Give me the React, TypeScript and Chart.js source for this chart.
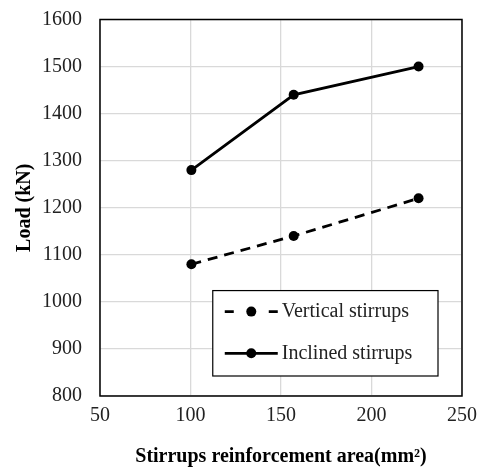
import React, { useEffect, useRef } from "react";
import { Chart, registerables } from "chart.js";

Chart.register(...registerables);

// Stirrup area (mm²) for each specimen
const stirrupArea = [100.5, 157, 226];
// Ultimate load (kN)
const verticalLoad = [1080, 1140, 1220];
const inclinedLoad = [1280, 1440, 1500];

const seriesNames = ["Vertical stirrups", "Inclined stirrups"];
const xTitle = "Stirrups reinforcement area(mm²)";
const yTitle = "Load (kN)";

const FONT = "'Liberation Serif', 'Times New Roman', serif";

// Boxed legend drawn inside the plot area, bottom-right
const innerLegend = {
  id: "innerLegend",
  afterDraw(chart: any) {
    const { ctx, chartArea, scales } = chart;
    const x0 = scales.x.getPixelForValue(112.3);
    const x1 = chartArea.right - 24;
    const y0 = scales.y.getPixelForValue(1024);
    const y1 = scales.y.getPixelForValue(842.5);
    ctx.save();
    ctx.fillStyle = "#ffffff";
    ctx.fillRect(x0, y0, x1 - x0, y1 - y0);
    ctx.strokeStyle = "#000000";
    ctx.lineWidth = 1.2;
    ctx.strokeRect(x0, y0, x1 - x0, y1 - y0);

    const rows = [y0 + (y1 - y0) * 0.246, y0 + (y1 - y0) * 0.734];
    const sx0 = x0 + 12;
    const sx1 = x0 + 65;
    chart.data.datasets.forEach((ds: any, i: number) => {
      const y = rows[i];
      ctx.strokeStyle = "#000";
      ctx.lineWidth = 2.8;
      ctx.beginPath();
      if (ds.borderDash && ds.borderDash.length) {
        ctx.moveTo(sx0, y);
        ctx.lineTo(sx0 + 9, y);
        ctx.moveTo(sx1 - 9, y);
        ctx.lineTo(sx1, y);
      } else {
        ctx.moveTo(sx0, y);
        ctx.lineTo(sx1, y);
      }
      ctx.stroke();
      ctx.fillStyle = "#000";
      ctx.beginPath();
      ctx.arc((sx0 + sx1) / 2, y, 5, 0, Math.PI * 2);
      ctx.fill();
      ctx.font = `20px ${FONT}`;
      ctx.textBaseline = "middle";
      ctx.textAlign = "left";
      ctx.fillStyle = "#222";
      ctx.fillText(ds.label, sx1 + 4, y);
    });
    ctx.restore();
  },
};

// Black frame around the plot area
const frame = {
  id: "frame",
  afterDatasetsDraw(chart: any) {
    const { ctx, chartArea } = chart;
    ctx.save();
    ctx.strokeStyle = "#000";
    ctx.lineWidth = 1.5;
    ctx.strokeRect(
      chartArea.left,
      chartArea.top,
      chartArea.right - chartArea.left,
      chartArea.bottom - chartArea.top
    );
    ctx.restore();
  },
};

const plainTick = (v: any) => String(v);

export default function App() {
  const canvasRef = useRef<HTMLCanvasElement | null>(null);

  useEffect(() => {
    if (!canvasRef.current) return;
    const toPoints = (ys: number[]) => stirrupArea.map((x, i) => ({ x, y: ys[i] }));
    const chart = new Chart(canvasRef.current, {
      type: "line",
      data: {
        datasets: [
          {
            label: seriesNames[0],
            data: toPoints(verticalLoad),
            borderColor: "#000",
            backgroundColor: "#000",
            borderWidth: 2.8,
            borderDash: [10, 7],
            pointRadius: 5,
            pointHoverRadius: 5,
            pointBorderWidth: 0,
            tension: 0,
          },
          {
            label: seriesNames[1],
            data: toPoints(inclinedLoad),
            borderColor: "#000",
            backgroundColor: "#000",
            borderWidth: 2.8,
            pointRadius: 5,
            pointHoverRadius: 5,
            pointBorderWidth: 0,
            tension: 0,
          },
        ],
      },
      options: {
        animation: false,
        responsive: false,
        devicePixelRatio: 1,
        layout: { padding: { top: 19.5, right: 17, left: 0, bottom: 0 } },
        plugins: {
          legend: { display: false },
          tooltip: { enabled: false },
        },
        scales: {
          x: {
            type: "linear",
            min: 50,
            max: 250,
            ticks: {
              stepSize: 50,
              color: "#222",
              padding: 8,
              font: { family: FONT, size: 20 },
              callback: plainTick,
            },
            grid: { color: "#d9d9d9", lineWidth: 1.3, drawTicks: false },
            border: { display: false },
            title: {
              display: true,
              text: xTitle,
              color: "#000",
              font: { family: FONT, size: 20, weight: "bold" },
              padding: { top: 0, bottom: -1 },
            },
            afterFit(scale: any) {
              scale.height = 72;
              scale.paddingLeft = 0;
              scale.paddingRight = 0;
            },
          },
          y: {
            min: 800,
            max: 1600,
            ticks: {
              stepSize: 100,
              color: "#222",
              padding: 18,
              font: { family: FONT, size: 20 },
              callback: plainTick,
            },
            grid: { color: "#d9d9d9", lineWidth: 1.3, drawTicks: false },
            border: { display: false },
            title: {
              display: true,
              text: yTitle,
              color: "#000",
              font: { family: FONT, size: 20, weight: "bold" },
              padding: { top: 13, bottom: 0 },
            },
            afterFit(scale: any) {
              scale.width = 100;
              scale.paddingTop = 0;
              scale.paddingBottom = 0;
            },
          },
        },
      },
      plugins: [frame, innerLegend],
    });
    return () => chart.destroy();
  }, []);

  return (
    <div style={{ position: "fixed", left: 0, top: 0, width: 479, height: 468, background: "#fff" }}>
      <canvas ref={canvasRef} width={479} height={468} />
    </div>
  );
}
